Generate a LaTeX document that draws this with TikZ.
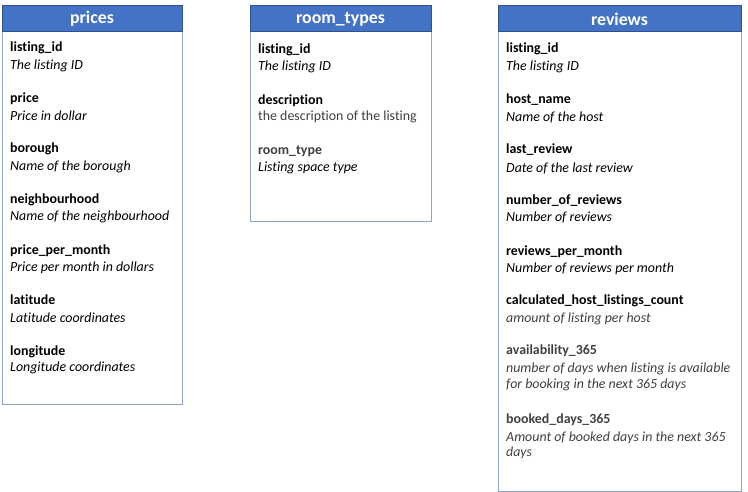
\documentclass[tikz,border=0pt]{standalone}
\usepackage{fontspec}
\setmainfont{Carlito}[RawFeature={-liga;-clig;-dlig;-calt}]
\definecolor{hdr}{HTML}{4472C4}
\definecolor{hdrborder}{HTML}{2F528F}
\definecolor{bodyborder}{HTML}{8FA2CC}
\definecolor{greytxt}{HTML}{404040}
\begin{document}
\begin{tikzpicture}[x=1pt,y=-1pt,
  tbody/.style={draw=bodyborder,line width=0.9pt,fill=white},
  thead/.style={draw=hdrborder,line width=0.8pt,fill=hdr},
  htitle/.style={text=white,font=\fontsize{17.8}{20}\selectfont\bfseries,anchor=center,inner sep=0pt},
  fname/.style={anchor=west,inner sep=0pt,font=\fontsize{13.9}{16}\selectfont\bfseries},
  fdesc/.style={anchor=west,inner sep=0pt,font=\fontsize{13.9}{16}\selectfont\itshape},
  grey/.style={text=greytxt}]
\useasboundingbox (0,0) rectangle (748,492);
% prices
\draw[tbody] (2,31) rectangle (182,404);
\draw[thead] (2,5) rectangle (182,31);
\node[htitle] (tp) at (92,19) {prices};
\begin{scope}[yshift=-1pt]
\node[fname] (p1) at (10,47) {listing\_id};
\node[fdesc] (p1d) at (10,65) {The listing ID};
\node[fname] (p2) at (10,98) {price};
\node[fdesc] (p2d) at (10,115) {Price in dollar};
\node[fname] (p3) at (10,148) {borough};
\node[fdesc] (p3d) at (10,166) {Name of the borough};
\node[fname] (p4) at (10,199) {neighbourhood};
\node[fdesc] (p4d) at (10,216) {Name of the neighbourhood};
\node[fname] (p5) at (10,250) {price\_per\_month};
\node[fdesc] (p5d) at (10,267) {Price per month in dollars};
\node[fname] (p6) at (10,299) {latitude};
\node[fdesc] (p6d) at (10,317) {Latitude coordinates};
\node[fname] (p7) at (10,351) {longitude};
\node[fdesc] (p7d) at (10,367) {Longitude coordinates};
\end{scope}
% room_types
\draw[tbody] (250,31) rectangle (431,221);
\draw[thead] (250,5) rectangle (431,31);
\node[htitle] (tr) at (340.5,19) {room\_types};
\begin{scope}[yshift=-1pt]
\node[fname] (r1) at (258,49) {listing\_id};
\node[fdesc] (r1d) at (258,66) {The listing ID};
\node[fname] (r2) at (258,100) {description};
\node[fdesc,grey,font=\fontsize{13.9}{16}\selectfont\upshape] (r2d) at (258,116) {the description of the listing};
\node[fname,grey] (r3) at (258,150) {room\_type};
\node[fdesc] (r3d) at (258,167) {Listing space type};
\end{scope}
% reviews
\draw[tbody] (498,31) rectangle (741,491);
\draw[thead] (498,5) rectangle (741,31);
\node[htitle] (tv) at (619.5,19) {reviews};
\begin{scope}[yshift=-1pt]
\node[fname] (v1) at (506,48) {listing\_id};
\node[fdesc] (v1d) at (506,66) {The listing ID};
\node[fname] (v2) at (506,99) {host\_name};
\node[fdesc] (v2d) at (506,116) {Name of the host};
\node[fname] (v3) at (506,149) {last\_review};
\node[fdesc] (v3d) at (506,167) {Date of the last review};
\node[fname] (v4) at (506,200) {number\_of\_reviews};
\node[fdesc] (v4d) at (506,216) {Number of reviews};
\node[fname] (v5) at (506,251) {reviews\_per\_month};
\node[fdesc] (v5d) at (506,268) {Number of reviews per month};
\node[fname] (v6) at (506,300) {calculated\_host\_listings\_count};
\node[fdesc,grey] (v6d) at (506,318) {amount of listing per host};
\node[fname,grey] (v7) at (506,350) {availability\_365};
\node[fdesc,grey] (v7d) at (506,368) {number of days when listing is available};
\node[fdesc,grey] (v7e) at (506,384) {for booking in the next 365 days};
\node[fname,grey] (v8) at (506,419) {booked\_days\_365};
\node[fdesc,grey] (v8d) at (506,437) {Amount of booked days in the next 365};
\node[fdesc,grey] (v8e) at (506,452) {days};
\end{scope}
\end{tikzpicture}
\end{document}
